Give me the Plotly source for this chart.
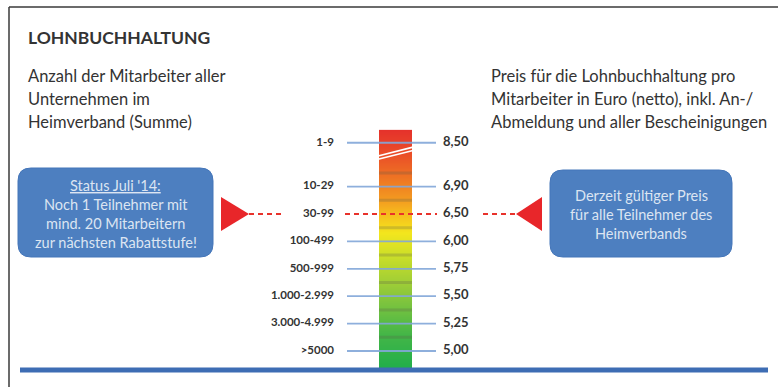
import numpy as np
import plotly.graph_objects as go

# ---- data -------------------------------------------------------------
tiers = ["1-9", "10-29", "30-99", "100-499", "500-999",
         "1.000-2.999", "3.000-4.999", ">5000"]          # employees, top to bottom
prices = [8.50, 6.90, 6.50, 6.00, 5.75, 5.50, 5.25, 5.00]  # EUR per employee (net)
current_tier = "30-99"

title = "LOHNBUCHHALTUNG"
left_caption = ["Anzahl der Mitarbeiter aller", "Unternehmen im", "Heimverband (Summe)"]
right_caption = ["Preis für die Lohnbuchhaltung pro",
                 "Mitarbeiter in Euro (netto), inkl. An-/",
                 "Abmeldung und aller Bescheinigungen"]
status_lines = ["<u>Status Juli '14:</u>", "Noch 1 Teilnehmer mit",
                "mind. 20 Mitarbeitern", "zur nächsten Rabattstufe!"]
price_note_lines = ["Derzeit gültiger Preis", "für alle Teilnehmer des", "Heimverbands"]

# ---- geometry ---------------------------------------------------------
W, H = 778, 387
STEP = 27.4        # pixels per tier row
BASE = 351         # pixel row of the lowest tier
BREAK_GAP = 0.6    # extra space above the axis break

n = len(tiers)
ypos = [float(n - 1 - i) for i in range(n)]
ypos[0] += BREAK_GAP
cur = ypos[tiers.index(current_tier)]

y_lo = -(H - BASE) / STEP
y_hi = BASE / STEP

FONT = "Lato"
TXT = "#333333"

fig = go.Figure()

# gradient scale bar
bar_x0, bar_x1 = 379, 412
bar_bottom = y_lo + (H - 370) / STEP
bar_top = ypos[0] + 0.47
edges = np.linspace(bar_bottom, bar_top, 241)
centers = (edges[:-1] + edges[1:]) / 2
zvals = ((centers - bar_bottom) / (bar_top - bar_bottom)).reshape(-1, 1)
fig.add_trace(go.Heatmap(
    x=[bar_x0, bar_x1], y=edges, z=zvals, zmin=0, zmax=1, showscale=False,
    hoverinfo="skip",
    colorscale=[[0.0, "#1fae4b"], [0.15, "#45b647"], [0.33, "#92c93a"],
                [0.48, "#cddf28"], [0.57, "#f3e61d"], [0.64, "#f6c21d"],
                [0.71, "#f39a20"], [0.80, "#ee7423"], [0.90, "#ea4e28"],
                [1.0, "#e5312b"]],
))

# darker seams between the tier segments
seams = [(ypos[i] + ypos[i + 1]) / 2 for i in range(1, n - 1)] + [ypos[1] + 0.5]
for s in seams:
    fig.add_shape(type="line", xref="x", yref="y", x0=bar_x0, x1=bar_x1, y0=s, y1=s,
                  line=dict(color="rgba(90,90,70,0.25)", width=3), layer="above")

# axis break mark
brk = ypos[1] + 1.1
for off in (0.0, 0.12):
    fig.add_shape(type="line", xref="x", yref="y", x0=bar_x0 - 1, x1=bar_x1 + 1,
                  y0=brk - 0.1 + off, y1=brk + 0.22 + off,
                  line=dict(color="white", width=1.6), layer="above")

# tick lines for every tier
tick_x, tick_y = [], []
for t, y in zip(tiers, ypos):
    if t == current_tier:
        continue
    tick_x += [347, 436, None]
    tick_y += [y, y, None]
fig.add_trace(go.Scatter(x=tick_x, y=tick_y, mode="lines", hoverinfo="skip",
                         line=dict(color="rgba(130,166,216,0.9)", width=1.8)))

# current tier highlight: dashed red line and pointers
for xa, xb in [(249, 282), (345, 437), (483, 516)]:
    fig.add_trace(go.Scatter(x=[xa, xb], y=[cur, cur], mode="lines", hoverinfo="skip",
                             line=dict(color="#e8322b", width=1.8, dash="5px,4px")))
fig.add_trace(go.Scatter(x=[221, 221, 249, 221], y=[cur - 0.62, cur + 0.62, cur, cur - 0.62],
                         mode="lines", fill="toself", fillcolor="#e8262a",
                         line=dict(color="#e8262a", width=0), hoverinfo="skip"))
fig.add_trace(go.Scatter(x=[542, 542, 516, 542], y=[cur - 0.62, cur + 0.62, cur, cur - 0.62],
                         mode="lines", fill="toself", fillcolor="#e8262a",
                         line=dict(color="#e8262a", width=0), hoverinfo="skip"))

# tier labels and prices
fig.add_trace(go.Scatter(x=[334] * n, y=ypos, mode="text", text=[f"<b>{t}</b>" for t in tiers],
                         textposition="middle left", hoverinfo="skip",
                         textfont=dict(family=FONT, size=11.5, color=TXT)))
fig.add_trace(go.Scatter(x=[443] * n, y=ypos, mode="text",
                         text=[f"<b>{p:.2f}</b>".replace(".", ",") for p in prices],
                         textposition="middle right", hoverinfo="skip",
                         textfont=dict(family=FONT, size=13, color=TXT)))


def rounded_rect(x0, y0, x1, y1, r):
    return (f"M {x0 + r},{y0} L {x1 - r},{y0} Q {x1},{y0} {x1},{y0 + r} "
            f"L {x1},{y1 - r} Q {x1},{y1} {x1 - r},{y1} L {x0 + r},{y1} "
            f"Q {x0},{y1} {x0},{y1 - r} L {x0},{y0 + r} Q {x0},{y0} {x0 + r},{y0} Z")


# call-out boxes
for (x0, y0, x1, y1) in [(18, 168, 213, 257), (550, 170, 732, 257)]:
    fig.add_shape(type="path", xref="x", yref="y2", path=rounded_rect(x0, y0, x1, y1, 13),
                  fillcolor="#4d7fc0", line=dict(color="#4576b9", width=1), layer="below")

annotations = []


def label(text, x, y, size, xanchor="left", color=TXT, bold=False):
    annotations.append(dict(text=f"<b>{text}</b>" if bold else text, x=x, y=y,
                            xref="x", yref="y2", xanchor=xanchor, yanchor="middle",
                            showarrow=False, font=dict(family=FONT, size=size, color=color)))


label(title, 26, 37, 17.5, bold=True)
for i, line in enumerate(left_caption):
    label(line, 26, 76 + 23 * i, 16.5)
for i, line in enumerate(right_caption):
    label(line, 489, 76 + 23 * i, 16.5)
for i, line in enumerate(status_lines):
    label(line, 115.5, 185 + 19 * i, 14.5, xanchor="center", color="#dce5f2")
for i, line in enumerate(price_note_lines):
    label(line, 641, 195 + 19 * i, 14.5, xanchor="center", color="#dce5f2")

# frame and base line
fig.add_shape(type="line", xref="x", yref="y2", x0=9, x1=W, y0=7, y1=7,
              line=dict(color="#3a3a3a", width=1.5))
fig.add_shape(type="line", xref="x", yref="y2", x0=9, x1=9, y0=7, y1=H,
              line=dict(color="#3a3a3a", width=1.5))
fig.add_shape(type="line", xref="x", yref="y2", x0=20, x1=768, y0=370, y1=370,
              line=dict(color="#3e6db4", width=5), layer="above")

fig.update_layout(
    width=W, height=H, margin=dict(l=0, r=0, t=0, b=0),
    paper_bgcolor="white", plot_bgcolor="white", showlegend=False,
    xaxis=dict(range=[0, W], visible=False, fixedrange=True),
    yaxis=dict(range=[y_lo, y_hi], visible=False, fixedrange=True),
    yaxis2=dict(range=[H, 0], visible=False, overlaying="y", fixedrange=True),
    annotations=annotations,
)

fig.write_html("out.html")
